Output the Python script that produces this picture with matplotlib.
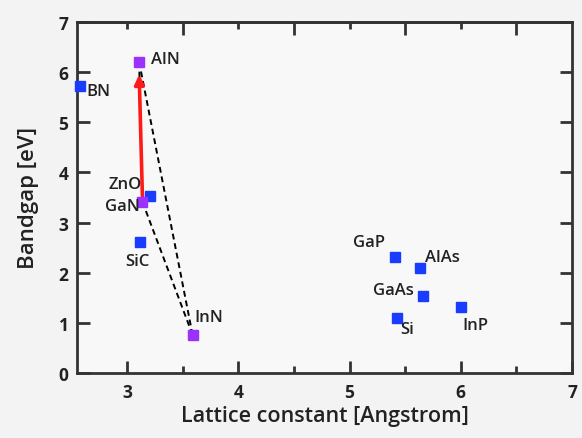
import numpy as np
import matplotlib.pyplot as plt
from matplotlib.ticker import MultipleLocator

# lattice constant [A] and bandgap [eV]
names = ['BN', 'AlN', 'ZnO', 'GaN', 'SiC', 'InN', 'GaP', 'AlAs', 'GaAs', 'Si', 'InP']
lattice = [2.58, 3.11, 3.21, 3.14, 3.12, 3.59, 5.41, 5.63, 5.66, 5.43, 6.00]
bandgap = [5.73, 6.20, 3.53, 3.41, 2.61, 0.76, 2.32, 2.10, 1.54, 1.10, 1.32]
nitrides = ['AlN', 'GaN', 'InN']

# label placement: (dx, dy, ha)
label_pos = {
    'BN': (0.06, -0.10, 'left'), 'AlN': (0.11, 0.05, 'left'),
    'ZnO': (-0.08, 0.24, 'right'), 'GaN': (-0.02, -0.08, 'right'),
    'SiC': (-0.03, -0.37, 'center'), 'InN': (0.02, 0.36, 'left'),
    'GaP': (-0.09, 0.29, 'right'), 'AlAs': (0.05, 0.22, 'left'),
    'GaAs': (-0.08, 0.12, 'right'), 'Si': (0.03, -0.22, 'left'),
    'InP': (0.01, -0.36, 'left'),
}

plt.rcParams['font.family'] = ['Open Sans', 'DejaVu Sans']
txt = '#222222'

fig = plt.figure(figsize=(5.82, 4.39), dpi=100, facecolor='#f3f3f3')
ax = fig.add_axes([0.132, 0.148, 0.851, 0.800], facecolor='#f8f8f8')

pt = dict(zip(names, zip(lattice, bandgap)))
a, g, i = pt['AlN'], pt['GaN'], pt['InN']
# dashed triangle AlN-GaN-InN
for p, q in [(a, i), (g, i), (a, g)]:
    ax.plot([p[0], q[0]], [p[1], q[1]], ls=(0, (3, 2)), color='k', lw=1.4, zorder=2)
# red arrow GaN -> AlN
ax.annotate('', xy=(a[0], a[1] - 0.25), xytext=(g[0], g[1] + 0.05),
            arrowprops=dict(arrowstyle='-|>', color='#ff1a1a', lw=2.6,
                            mutation_scale=14, shrinkA=0, shrinkB=0), zorder=3)

for n, x, y in zip(names, lattice, bandgap):
    c = '#9b30ff' if n in nitrides else '#1a3cff'
    ax.plot(x, y, 's', ms=6.5, color=c, mec=c, zorder=4, clip_on=False)
    dx, dy, ha = label_pos[n]
    ax.text(x + dx, y + dy, n, ha=ha, va='center', fontsize=12,
            fontweight='semibold', color=txt, zorder=5)

ax.set_xlim(2.55, 7)
ax.set_ylim(0, 7)
ax.xaxis.set_major_locator(MultipleLocator(1))
ax.xaxis.set_minor_locator(MultipleLocator(0.5))
ax.yaxis.set_major_locator(MultipleLocator(1))
ax.tick_params(which='both', direction='in', width=2, colors='#333333',
               labelcolor=txt, labelsize=12.5, right=True)
ax.tick_params(which='major', length=9)
ax.tick_params(which='minor', length=5)
for lab in ax.get_xticklabels() + ax.get_yticklabels():
    lab.set_fontweight('bold')
ax.tick_params(axis='x', pad=7)
ax.tick_params(axis='y', pad=6)

top = ax.secondary_xaxis('top')
top.set_xticks([3.5, 4.5, 5.5, 6.5])
top.set_xticks([3, 4, 5, 6], minor=True)
top.tick_params(which='both', direction='in', width=2, colors='#333333', labeltop=False)
top.tick_params(which='major', length=9)
top.tick_params(which='minor', length=5)
top.spines['top'].set_linewidth(2)
top.spines['top'].set_color('#333333')

for s in ax.spines.values():
    s.set_linewidth(2)
    s.set_color('#333333')

ax.set_xlabel('Lattice constant [Angstrom]', fontsize=15.5, fontweight='semibold',
              color=txt, labelpad=3)
ax.set_ylabel('Bandgap [eV]', fontsize=16, fontweight='semibold', color=txt, labelpad=14)

fig.savefig('out.png', dpi=100, facecolor=fig.get_facecolor())
